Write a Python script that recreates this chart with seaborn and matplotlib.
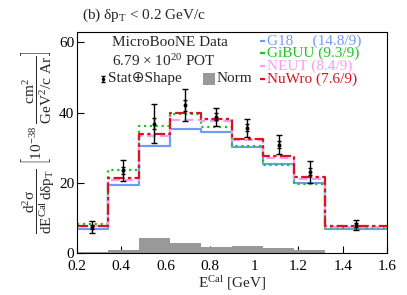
import numpy as np
import pandas as pd
import seaborn as sns
import matplotlib
matplotlib.use("Agg")
import matplotlib.pyplot as plt
from matplotlib.ticker import MultipleLocator

sns.set_theme(style="ticks")
plt.rcParams['font.family'] = ['Liberation Serif', 'DejaVu Serif']
plt.rcParams['mathtext.fontset'] = 'custom'
plt.rcParams['mathtext.rm'] = 'Liberation Serif'
plt.rcParams['mathtext.it'] = 'Liberation Serif:italic'
plt.rcParams['mathtext.bf'] = 'Liberation Serif:bold'

# ---- data ----
bin_edges = [0.2, 0.34, 0.48, 0.62, 0.76, 0.90, 1.04, 1.18, 1.32, 1.6]
data_vals = [7.4, 23.6, 36.9, 42.1, 38.8, 35.7, 30.8, 23.1, 8.0]
data_err = [1.7, 3.0, 5.6, 4.5, 2.5, 2.6, 2.7, 3.0, 1.5]
stat_err = [0.6, 1.0, 1.5, 1.5, 1.0, 1.0, 1.0, 1.0, 0.6]
g18 = [7.0, 19.5, 30.5, 35.4, 34.4, 30.2, 25.5, 20.1, 7.0]
gibuu = [8.3, 23.6, 36.2, 39.7, 35.9, 30.6, 25.1, 19.6, 7.1]
neut = [7.6, 20.9, 33.3, 38.0, 37.7, 32.1, 27.1, 21.2, 7.4]
nuwro = [7.8, 21.5, 34.0, 40.0, 38.2, 32.6, 27.6, 21.7, 7.7]
norm_unc = [0.4, 1.0, 4.3, 2.9, 1.8, 2.1, 1.5, 0.9, 0.0]

model_names = ['G18', 'GiBUU', 'NEUT', 'NuWro']
model_labels = ['G18     (14.8/9)', 'GiBUU (9.3/9)', 'NEUT (8.4/9)', 'NuWro (7.6/9)']
model_colors = ['#6f9cf7', '#1ec41e', '#f4a0f0', '#d8141e']
model_styles = ['-', ':', (0, (4, 2)), (0, (5, 1.5, 1.5, 1.5))]
model_vals = [g18, gibuu, neut, nuwro]

edges = np.array(bin_edges)
centers = 0.5 * (edges[:-1] + edges[1:])

fig = plt.figure(figsize=(4.07, 2.95), dpi=100)
ax = fig.add_axes([0.189, 0.142, 0.762, 0.75])

# norm histogram
sns.histplot(x=centers, weights=norm_unc, bins=bin_edges, element='step',
             fill=True, color='#999999', alpha=1.0, linewidth=0, ax=ax)

for vals, c, ls in zip(model_vals, model_colors, model_styles):
    sns.histplot(x=centers, weights=vals, bins=bin_edges, element='step',
                 fill=False, color=c, linewidth=1.6, linestyle=ls, ax=ax)

# data
ax.errorbar(centers, data_vals, yerr=data_err, fmt='none', ecolor='black',
            elinewidth=1.0, capsize=2, capthick=1.0, zorder=5)
ax.errorbar(centers, data_vals, yerr=stat_err, fmt='none', ecolor='black',
            elinewidth=1.0, capsize=1.5, capthick=1.0, zorder=5)
sns.scatterplot(x=centers, y=data_vals, color='black', s=8, linewidth=0,
                ax=ax, zorder=6)

ax.set_xlim(0.2, 1.6)
ax.set_ylim(0, 63)
ax.yaxis.set_major_locator(MultipleLocator(20))
ax.set_xticks([0.2, 0.4, 0.6, 0.8, 1.0, 1.2, 1.4, 1.6])
ax.set_xticklabels(['0.2', '0.4', '0.6', '0.8', '1', '1.2', '1.4', '1.6'])
ax.tick_params(direction='in', length=5, width=0.8, labelsize=11, pad=2,
               color='black', labelcolor='black')
ax.tick_params(axis='x', pad=5)
for s in ax.spines.values():
    s.set_color('black')
    s.set_linewidth(0.8)

ax.set_xlabel(r'E$^{\mathrm{Cal}}$ [GeV]', fontsize=11, labelpad=1)
ax.set_ylabel(r'$\dfrac{\mathrm{d}^{2}\mathrm{\sigma}}{\mathrm{dE}^{\mathrm{Cal}}\,\mathrm{d\delta p}_{\mathrm{T}}}\ '
              r'\left[10^{-38}\ \dfrac{\mathrm{cm}^{2}}{\mathrm{GeV}^{2}\mathrm{/c\ Ar}}\right]$',
              fontsize=11, labelpad=2)

fig.text(82 / 407, 1 - 15 / 295, r'(b) δp$_{\mathrm{T}}$ < 0.2 GeV/c', fontsize=11,
         ha='left', va='center')

# left legend block
tr = ax.transAxes
def axx(px):
    return (px - 77) / 310
def axy(py):
    return (253 - py) / 221

ax.text(axx(112), axy(43), 'MicroBooNE Data', fontsize=11, ha='left', va='center', transform=tr)
ax.text(axx(112), axy(61), r'6.79 $\times$ 10$^{20}$ POT', fontsize=11, ha='left', va='center', transform=tr)
ax.text(axx(108), axy(79), 'Stat⊕Shape', fontsize=11, ha='left', va='center', transform=tr,
        family=['Liberation Serif', 'DejaVu Sans'])
ax.errorbar([axx(103)], [axy(79)], yerr=[0.012], fmt='o', ms=1.5, color='black',
            elinewidth=1.0, capsize=1.5, transform=tr, clip_on=False)
ax.add_patch(plt.Rectangle((axx(203), axy(85)), 12 / 310, 12 / 221, transform=tr,
                           color='#999999', lw=0))
ax.text(axx(217), axy(79), 'Norm', fontsize=11, ha='left', va='center', transform=tr)

# right legend block
rows_y = [41, 53, 66, 79]
for lab, c, ls, yy in zip(model_labels, model_colors, model_styles, rows_y):
    ax.plot([axx(260), axx(265)], [axy(yy), axy(yy)], color=c, lw=1.6,
            linestyle='-', transform=tr, solid_capstyle='butt')
    ax.text(axx(267), axy(yy), lab, fontsize=11, color=c, ha='left', va='center', transform=tr)

fig.savefig('out.png', dpi=100)
